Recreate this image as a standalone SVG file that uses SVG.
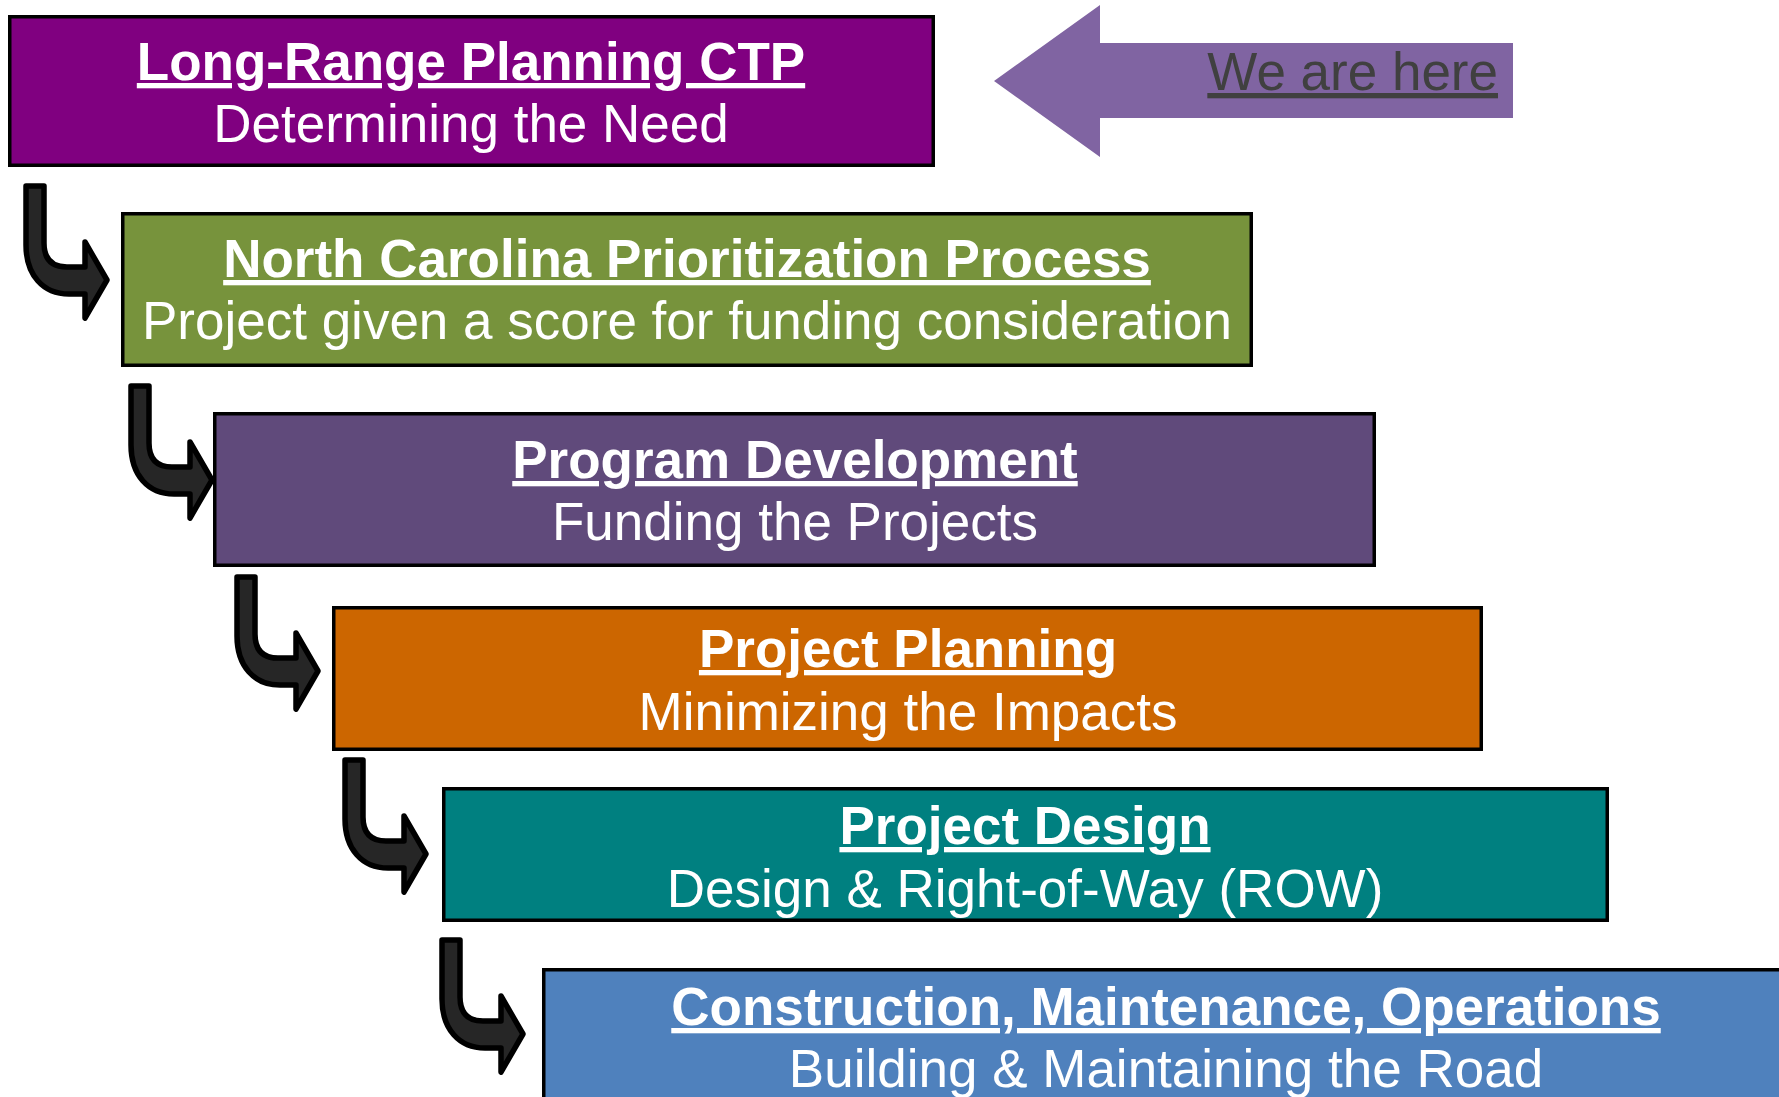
<svg xmlns="http://www.w3.org/2000/svg" width="1779" height="1097" viewBox="0 0 1779 1097">
<defs>
<style>
.box{stroke:#000;stroke-width:3.5}
.t{font-family:"Liberation Sans",Arial,sans-serif;font-size:53px;fill:#fff;text-anchor:middle}
.b{font-weight:bold;text-decoration:underline;text-decoration-skip-ink:none}
.u{text-decoration:underline;text-decoration-skip-ink:none}
.arr{fill:#262626;stroke:#000;stroke-width:5.5;stroke-linejoin:round}
</style>
<path id="bent" d="M3,3 L21,3 L21,60 Q21,84 44,84 L62,84 L62,59 L84,97 L62,135 L62,111 L46,111 C20,111 3,92 3,62 Z"/>
</defs>
<rect width="1779" height="1097" fill="#fff"/>
<g id="connectors">
<use href="#bent" class="arr" x="23" y="183"/>
<use href="#bent" class="arr" x="128" y="383"/>
<use href="#bent" class="arr" x="234" y="574"/>
<use href="#bent" class="arr" x="342" y="757"/>
<use href="#bent" class="arr" x="439" y="937"/>
</g>
<g id="node-longrange">
<rect class="box" x="9.75" y="16.75" width="923.5" height="148.5" fill="#800080"/>
<text class="t b" x="471" y="80">Long-Range Planning CTP</text>
<text class="t" x="471" y="142">Determining the Need</text>
</g>
<g id="node-prioritization">
<rect class="box" x="122.75" y="213.75" width="1128.5" height="151.5" fill="#77933C"/>
<text class="t b" x="687" y="277">North Carolina Prioritization Process</text>
<text class="t" x="687" y="339">Project given a score for funding consideration</text>
</g>
<g id="node-program">
<rect class="box" x="214.75" y="413.75" width="1159.5" height="151.5" fill="#604A7B"/>
<text class="t b" x="795" y="478">Program Development</text>
<text class="t" x="795" y="540">Funding the Projects</text>
</g>
<g id="node-planning">
<rect class="box" x="333.75" y="607.75" width="1147.5" height="141.5" fill="#CC6600"/>
<text class="t b" x="908" y="667">Project Planning</text>
<text class="t" x="908" y="730">Minimizing the Impacts</text>
</g>
<g id="node-design">
<rect class="box" x="443.75" y="788.75" width="1163.5" height="131.5" fill="#008080"/>
<text class="t b" x="1025" y="844">Project Design</text>
<text class="t" x="1025" y="907">Design &amp; Right-of-Way (ROW)</text>
</g>
<g id="node-construction">
<rect class="box" x="543.75" y="969.75" width="1300" height="200" fill="#4F81BD"/>
<text class="t b" x="1166" y="1025">Construction, Maintenance, Operations</text>
<text class="t" x="1166" y="1087">Building &amp; Maintaining the Road</text>
</g>
<g id="node-wearehere">
<path d="M994,81 L1100,5 L1100,43 L1513,43 L1513,118 L1100,118 L1100,157 Z" fill="#8064A2"/>
<text class="u" x="1498" y="90" font-family="'Liberation Sans',Arial,sans-serif" font-size="53" fill="#404040" text-anchor="end">We are here</text>
</g>
</svg>
